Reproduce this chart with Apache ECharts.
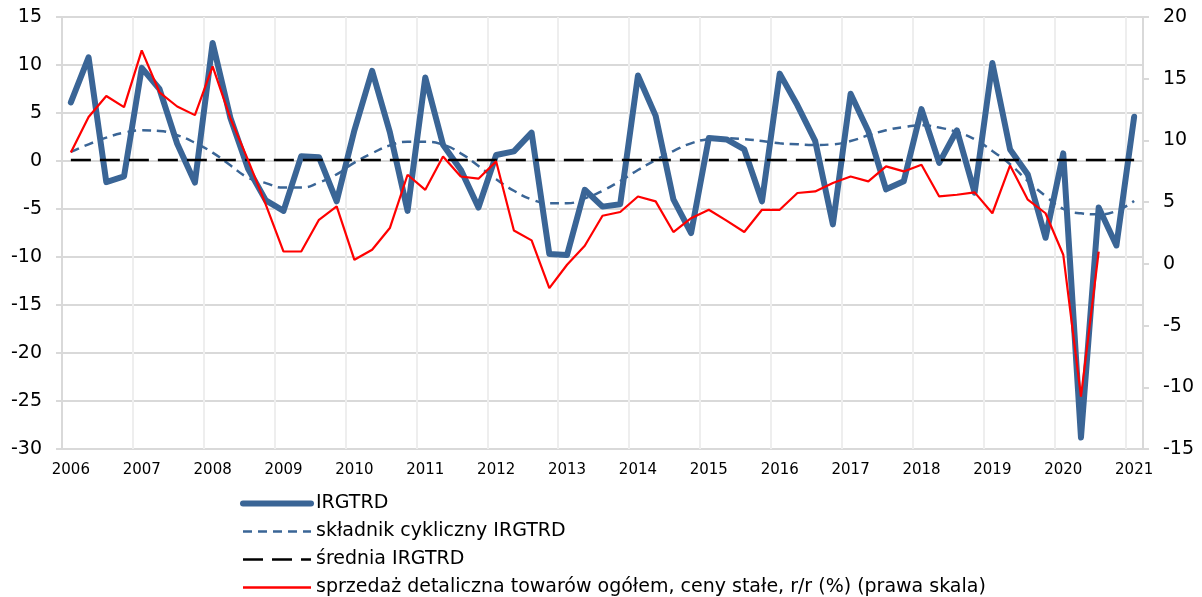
<!DOCTYPE html>
<html>
<head>
<meta charset="utf-8">
<script src="https://cdn.jsdelivr.net/npm/echarts@6/dist/echarts.min.js"></script>
<style>
html,body{margin:0;padding:0;background:#fff;}
#chart{width:1202px;height:597px;}
</style>
</head>
<body>
<div id="chart"></div>
<script>
const years = ['2006','2007','2008','2009','2010','2011','2012','2013','2014','2015','2016','2017','2018','2019','2020','2021'];
const quarterNames = ['Q1','Q2','Q3','Q4'];

const irgtrd = [
  6.1, 10.8, -2.2, -1.6, 9.7, 7.5, 1.8, -2.25, 12.3, 4.5,
  -0.8, -4.1, -5.2, 0.5, 0.4, -4.2, 3.2, 9.4, 3.0, -5.2,
  8.7, 1.7, -0.9, -4.85, 0.63, 1.0, 2.95, -9.7, -9.8, -3.0,
  -4.75, -4.5, 8.9, 4.7, -4.0, -7.5, 2.4, 2.25, 1.2, -4.2,
  9.1, 5.8, 2.1, -6.6, 7.0, 3.1, -2.95, -2.1, 5.4, -0.2,
  3.2, -3.3, 10.2, 1.2, -1.4, -8.0, 0.8, -28.8, -4.85, -8.8,
  4.6
];

const cyclic = [
  0.94, 1.74, 2.43, 2.95, 3.2, 3.13, 2.68, 1.9, 0.87, -0.45,
  -1.73, -2.3, -2.77, -2.77, -2.25, -1.39, -0.17, 0.8, 1.63, 2.0,
  2.0, 1.7, 0.8, -0.52, -1.9, -3.1, -4.0, -4.4, -4.4, -3.9,
  -3.1, -2.08, -0.94, 0.1, 1.04, 1.84, 2.26, 2.36, 2.26, 2.08,
  1.84, 1.74, 1.67, 1.74, 2.08, 2.68, 3.2, 3.54, 3.72, 3.48,
  3.02, 2.26, 1.04, -0.34, -2.08, -3.65, -5.0, -5.45, -5.55, -5.2,
  -4.17
];

const meanValue = 0.1;

const retailSales = [
  9.03, 11.9, 13.6, 12.7, 17.3, 13.9, 12.75, 12.05, 16.0, 11.8,
  8.4, 4.8, 1.0, 1.0, 3.57, 4.65, 0.33, 1.14, 2.9, 7.22,
  6.0, 8.7, 7.08, 6.9, 8.3, 2.7, 1.9, -1.96, -0.07, 1.47,
  3.9, 4.2, 5.46, 5.06, 2.58, 3.7, 4.38, 3.5, 2.58, 4.38,
  4.38, 5.74, 5.87, 6.55, 7.08, 6.68, 7.9, 7.49, 8.03, 5.46,
  5.6, 5.79, 4.1, 7.97, 5.2, 4.1, 0.74, -10.75, 1.0, null,
  null
];

const seriesNames = [
  'IRGTRD',
  'składnik cykliczny IRGTRD',
  'średnia IRGTRD',
  'sprzedaż detaliczna towarów ogółem, ceny stałe, r/r (%) (prawa skala)'
];

// categories: quarters 2006Q1 .. 2021Q1
const categories = [];
years.forEach(function (y) {
  quarterNames.forEach(function (q) {
    if (categories.length < irgtrd.length) categories.push(y + ' ' + q);
  });
});
const meanLine = categories.map(function () { return meanValue; });

const FONT = 'DejaVu Sans';
const BLUE = '#3a6596';
const fmtNum = function (v) { return String(v); };

const chart = echarts.init(document.getElementById('chart'), null, {renderer: 'canvas'});
chart.setOption({
  animation: false,
  backgroundColor: '#ffffff',
  textStyle: {fontFamily: FONT, color: '#000'},
  grid: {left: 62, right: 59, top: 17, height: 432, containLabel: false},
  legend: {
    orient: 'vertical',
    left: 240,
    top: 494,
    height: 120,
    padding: 0,
    itemWidth: 68,
    itemHeight: 10,
    itemGap: 9,
    itemStyle: {opacity: 0},
    textStyle: {fontFamily: FONT, fontSize: 19, color: '#000'},
    data: [
      {name: seriesNames[0], lineStyle: {width: 6}},
      {name: seriesNames[1], lineStyle: {width: 2.5}},
      {name: seriesNames[2], lineStyle: {width: 2.5}},
      {name: seriesNames[3], lineStyle: {width: 2.5}}
    ]
  },
  xAxis: {
    type: 'category',
    data: categories,
    boundaryGap: true,
    axisLine: {show: true, lineStyle: {color: '#d9d9d9', width: 2}},
    axisTick: {show: false},
    axisLabel: {
      interval: 3,
      margin: 14,
      fontFamily: FONT,
      fontSize: 15,
      color: '#000',
      formatter: function (v) { return v.split(' ')[0]; }
    },
    splitLine: {show: true, interval: 3, lineStyle: {color: '#eeeeee', width: 2}}
  },
  yAxis: [
    {
      type: 'value',
      min: -30, max: 15, interval: 5,
      position: 'left',
      axisLine: {show: true, lineStyle: {color: '#d9d9d9', width: 2}},
      axisTick: {show: true, length: 6, lineStyle: {color: '#d9d9d9', width: 2}},
      axisLabel: {margin: 20, fontFamily: FONT, fontSize: 19, color: '#000', formatter: fmtNum},
      splitLine: {show: true, lineStyle: {color: '#d9d9d9', width: 2}}
    },
    {
      type: 'value',
      min: -15, max: 20, interval: 5,
      position: 'right',
      axisLine: {show: true, lineStyle: {color: '#d9d9d9', width: 2}},
      axisTick: {show: true, length: 6, lineStyle: {color: '#d9d9d9', width: 2}},
      axisLabel: {margin: 20, fontFamily: FONT, fontSize: 19, color: '#000', formatter: fmtNum},
      splitLine: {show: false}
    }
  ],
  series: [
    {
      name: seriesNames[0], type: 'line', yAxisIndex: 0, data: irgtrd,
      symbol: 'none', color: BLUE,
      lineStyle: {color: BLUE, width: 6, join: 'round', cap: 'round'}
    },
    {
      name: seriesNames[1], type: 'line', yAxisIndex: 0, data: cyclic,
      symbol: 'none', color: BLUE, smooth: true,
      lineStyle: {color: BLUE, width: 2.5, type: [9, 6]}
    },
    {
      name: seriesNames[2], type: 'line', yAxisIndex: 0, data: meanLine,
      symbol: 'none', color: '#000',
      lineStyle: {color: '#000', width: 2.5, type: [20, 9]}
    },
    {
      name: seriesNames[3], type: 'line', yAxisIndex: 1, data: retailSales,
      symbol: 'none', color: '#ff0000', connectNulls: false,
      lineStyle: {color: '#ff0000', width: 2.2}
    }
  ]
});
</script>
</body>
</html>
